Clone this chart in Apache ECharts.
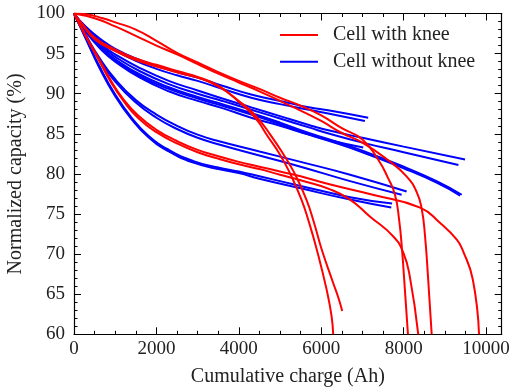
<!DOCTYPE html>
<html><head><meta charset="utf-8">
<script src="https://cdn.jsdelivr.net/npm/echarts@6/dist/echarts.min.js"></script>
<style>html,body{margin:0;padding:0;background:#fff}#c{width:510px;height:387px}</style>
</head><body><div id="c"></div><script>
// ---- data: [cumulative charge (Ah), normalized capacity (%)] ----
const xTicks = [0, 2000, 4000, 6000, 8000, 10000];
const yTicks = [60, 65, 70, 75, 80, 85, 90, 95, 100];

// Cells with knee (red)
const kneeA = [[0,100],[200,98.7],[500,97.0],[1000,95.5],[1500,94.4],[2000,93.6],[2600,92.7],[3000,92.1],[3500,91.0],[4000,89.0],[4400,87.0],[4700,84.7],[5000,82.4],[5240,80.1],[5520,76.8],[5700,74.0],[5890,70.6],[6130,65.6],[6250,62.3],[6290,60]];
const kneeB = [[0,100],[200,98.6],[500,96.8],[1000,95.3],[1500,94.2],[2000,93.4],[2600,92.5],[3000,92.0],[3500,90.9],[4000,89.1],[4400,87.3],[4750,85.0],[5100,82.3],[5360,80.0],[5640,76.8],[5820,74.0],[6010,70.6],[6290,66.4],[6420,64.5],[6510,62.9]];
const kneeC = [[0,100],[300,99.9],[700,99.4],[1000,98.9],[1500,98.0],[2000,96.6],[2500,95.1],[3000,93.9],[3500,92.7],[4000,91.6],[4500,90.6],[5000,89.5],[5500,88.5],[6000,87.3],[6500,85.7],[7000,84.3],[7380,81.8],[7620,79.5],[7790,77.4],[7890,74.3],[7960,70.6],[8030,65.6],[8105,60]];
const kneeD = [[0,100],[300,97.0],[600,94.2],[900,91.4],[1200,89.1],[1550,87.0],[2000,85.2],[2500,83.8],[3000,82.7],[3500,81.9],[4000,81.2],[4500,80.6],[5000,79.9],[5500,79.2],[6200,78.1],[6700,76.8],[7180,74.7],[7750,72.2],[7990,70.2],[8150,67.2],[8355,60]];
const kneeE = [[0,100],[500,99.4],[1000,98.4],[1500,97.2],[2000,96.0],[2500,94.9],[3000,93.7],[3500,92.5],[4000,91.4],[4500,90.3],[5000,89.1],[5500,87.9],[6000,86.6],[6500,85.1],[7000,83.9],[7650,81.6],[8070,79.7],[8320,77.7],[8440,75.6],[8520,72.2],[8600,66.5],[8681,60]];
const kneeF = [[0,100],[300,97.1],[600,94.4],[900,91.6],[1200,89.3],[1550,87.3],[2000,85.5],[2500,84.1],[3000,83.0],[3500,82.2],[4000,81.5],[4500,80.9],[5000,80.3],[5500,79.7],[6200,78.7],[7250,77.4],[8400,75.8],[8880,73.9],[9290,71.8],[9440,70.4],[9680,66.8],[9830,60]];

// Cells without knee (blue)
const noKneeU1 = [[0,100],[300,98.3],[700,96.6],[1000,95.6],[1500,94.4],[2000,93.5],[2500,92.7],[3000,92.0],[3600,91.0],[4300,89.9],[5000,89.1],[5700,88.3],[6200,87.9],[7140,87.0]];
const noKneeU2 = [[0,100],[300,98.2],[700,96.4],[1000,95.4],[1500,94.1],[2000,93.1],[2500,92.3],[3000,91.6],[3600,90.6],[4300,89.5],[5000,88.7],[5700,88.0],[6200,87.5],[7060,86.6]];
const noKneeM1 = [[0,100],[300,98.0],[700,96.0],[1000,94.9],[1600,93.2],[2300,91.6],[3000,90.4],[3600,89.4],[4300,88.3],[5000,87.2],[5700,86.1],[6200,85.4],[7000,84.5],[8000,83.4],[9490,81.8]];
const noKneeM2 = [[0,100],[300,97.9],[700,95.8],[1000,94.6],[1600,92.8],[2300,91.2],[3000,90.0],[3600,89.1],[4300,88.0],[5000,86.9],[5700,85.8],[6200,85.0],[7000,83.9],[8000,82.7],[9330,81.1]];
const noKneeM3 = [[0,100],[300,97.8],[700,95.6],[1000,94.3],[1600,92.4],[2300,90.8],[3000,89.6],[3600,88.7],[4300,87.6],[5000,86.4],[5700,85.1],[6200,84.3],[7000,82.9],[8000,80.9],[8800,79.1],[9410,77.4]];
const noKneeM4 = [[0,100],[300,97.7],[700,95.5],[1000,94.2],[1600,92.2],[2300,90.6],[3000,89.4],[3600,88.5],[4300,87.4],[5000,86.2],[5700,84.9],[6200,84.1],[7000,82.7],[8000,80.7],[8800,78.9],[9370,77.3]];
const noKneeM5 = [[0,100],[300,97.6],[700,95.3],[1000,94.0],[1600,92.0],[2300,90.3],[3000,89.1],[3600,88.2],[4300,87.0],[5000,86.0],[5700,84.9],[6200,84.2],[7020,83.3]];
const noKneeS1 = [[0,100],[300,97.2],[600,94.6],[1000,91.8],[1500,89.2],[2000,87.4],[2500,86.0],[3000,84.9],[3500,84.1],[4500,82.8],[5500,81.5],[6700,79.9],[8073,77.8]];
const noKneeS2 = [[0,100],[300,97.1],[600,94.4],[1000,91.5],[1500,88.9],[2000,87.0],[2500,85.6],[3000,84.5],[3500,83.7],[4500,82.3],[5500,80.9],[6700,79.1],[7951,77.4]];
const noKneeL1 = [[0,100],[300,96.8],[600,93.6],[1000,89.9],[1400,87.0],[1800,84.8],[2300,83.0],[2900,81.6],[3500,80.8],[4000,80.3],[4500,79.7],[5500,78.5],[6700,77.1],[7720,76.3]];
const noKneeL2 = [[0,100],[300,96.7],[600,93.4],[1000,89.7],[1400,86.8],[1800,84.6],[2300,82.8],[2900,81.4],[3500,80.6],[4000,80.1],[4500,79.4],[5500,78.2],[6700,76.8],[7700,75.8]];

const kneeCells = [kneeA, kneeB, kneeC, kneeD, kneeE, kneeF];
const noKneeCells = [noKneeU1, noKneeU2, noKneeM1, noKneeM2, noKneeM3, noKneeM4, noKneeM5, noKneeS1, noKneeS2, noKneeL1, noKneeL2];
const NAME_KNEE = 'Cell with knee';
const NAME_NOKNEE = 'Cell without knee';

// ---- chart ----
const FONT = 'Liberation Serif';
const RED = '#ff0000', BLUE = '#0000ff';
const chart = echarts.init(document.getElementById('c'), null, {renderer: 'canvas'});
const gridBox = {left: 74, right: 8.3, top: 13.5, bottom: 52.7, containLabel: false, outerBoundsMode: 'none'};
const X_MAX = 10380;

function lineSeries(data, name, color) {
  return {type: 'line', name, data, xAxisIndex: 0, yAxisIndex: 0,
    showSymbol: false, symbol: 'none', smooth: 0.5,
    lineStyle: {color, width: 2}, itemStyle: {color}, clip: true, animation: false, silent: true};
}
const series = [];
noKneeCells.forEach(d => series.push(lineSeries(d, NAME_NOKNEE, BLUE)));
kneeCells.forEach(d => series.push(lineSeries(d, NAME_KNEE, RED)));

const axLine = {show: true, onZero: false, lineStyle: {color: '#000', width: 1.2}};
const majorTick = {show: true, inside: true, length: 7, lineStyle: {color: '#000', width: 1}};
const minorTickStyle = {show: true, inside: true, length: 3.5, lineStyle: {color: '#000', width: 1}};
const xs = new Set(xTicks), ys = new Set(yTicks);

chart.setOption({
  animation: false,
  backgroundColor: '#fff',
  grid: [Object.assign({}, gridBox), Object.assign({}, gridBox)],
  legend: {
    data: [NAME_KNEE, NAME_NOKNEE], orient: 'vertical', left: 280, top: 25, padding: 0,
    icon: 'rect', itemWidth: 38, itemHeight: 2, itemGap: 6.7,
    textStyle: {fontFamily: FONT, fontSize: 20, color: '#222', lineHeight: 20, padding: [0, 0, 0, 10]},
    selectedMode: false
  },
  xAxis: [
    {type: 'value', gridIndex: 0, position: 'bottom', min: 0, max: X_MAX, interval: 2000,
     axisLine: axLine, axisTick: majorTick, splitLine: {show: false},
     axisLabel: {formatter: v => xs.has(v) ? String(v) : '', fontFamily: FONT, fontSize: 19, color: '#222', margin: 5},
     name: 'Cumulative charge (Ah)', nameLocation: 'middle', nameGap: 32,
     nameTextStyle: {fontFamily: FONT, fontSize: 20, color: '#222'}},
    {type: 'value', gridIndex: 0, position: 'top', min: 0, max: X_MAX, interval: 2000,
     axisLine: axLine, axisTick: majorTick, splitLine: {show: false}, axisLabel: {show: false}},
    {type: 'value', gridIndex: 1, position: 'bottom', min: 0, max: X_MAX, interval: 500,
     axisLine: {show: false, onZero: false}, axisTick: minorTickStyle, splitLine: {show: false}, axisLabel: {show: false}},
    {type: 'value', gridIndex: 1, position: 'top', min: 0, max: X_MAX, interval: 500,
     axisLine: {show: false, onZero: false}, axisTick: minorTickStyle, splitLine: {show: false}, axisLabel: {show: false}}
  ],
  yAxis: [
    {type: 'value', gridIndex: 0, position: 'left', min: 60, max: 100, interval: 5,
     axisLine: axLine, axisTick: majorTick, splitLine: {show: false},
     minorTick: {show: true, splitNumber: 5, length: 3.5, lineStyle: {color: '#000', width: 1}}, minorSplitLine: {show: false},
     axisLabel: {formatter: v => ys.has(v) ? String(v) : '', fontFamily: FONT, fontSize: 19, color: '#222', margin: 9},
     name: 'Normalized capacity (%)', nameLocation: 'middle', nameGap: 46,
     nameTextStyle: {fontFamily: FONT, fontSize: 20, color: '#222'}},
    {type: 'value', gridIndex: 0, position: 'right', min: 60, max: 100, interval: 5,
     axisLine: axLine, axisTick: majorTick, splitLine: {show: false},
     minorTick: {show: true, splitNumber: 5, length: 3.5, lineStyle: {color: '#000', width: 1}}, minorSplitLine: {show: false},
     axisLabel: {show: false}},
    {type: 'value', gridIndex: 1, min: 60, max: 100, show: false}
  ],
  series
});
</script></body></html>
